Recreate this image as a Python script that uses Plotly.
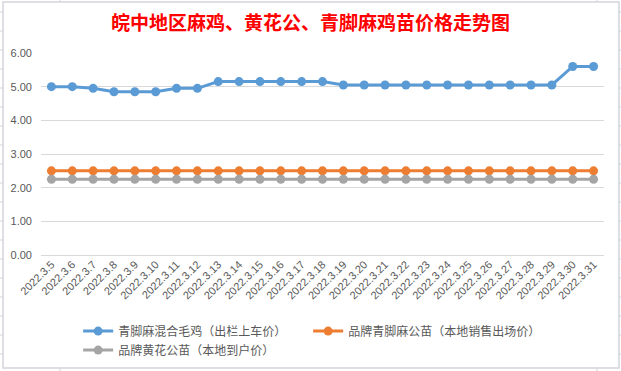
import plotly.graph_objects as go

dates = ["2022.3.%d" % d for d in range(5, 32)]
qingjiao_mixed = [5.00, 5.00, 4.95, 4.85, 4.85, 4.85, 4.95, 4.95,
                  5.15, 5.15, 5.15, 5.15, 5.15, 5.15,
                  5.05, 5.05, 5.05, 5.05, 5.05, 5.05, 5.05, 5.05, 5.05, 5.05, 5.05,
                  5.60, 5.60]
brand_qingjiao = [2.50] * 27
brand_huanghua = [2.25] * 27

names = ["青脚麻混合毛鸡（出栏上车价）", "品牌青脚麻公苗（本地销售出场价）", "品牌黄花公苗（本地到户价）"]
colors = ["#5B9BD5", "#ED7D31", "#A5A5A5"]
series = [qingjiao_mixed, brand_qingjiao, brand_huanghua]

fig = go.Figure()
for n, c, s in zip(names, colors, series):
    fig.add_trace(go.Scatter(x=dates, y=s, name=n, mode="lines+markers",
                             line=dict(color=c, width=3),
                             marker=dict(color=c, size=9)))

W, H = 621, 371
L, R, T, B = 41, 17, 53, 116
PW, PH = W - L - R, H - T - B


def px(x):
    return (x - L) / PW


def py(y):
    return (H - B - y) / PH


frame = "#D4D4DC"
shapes = [dict(type="rect", xref="paper", yref="paper",
               x0=px(3), x1=px(619), y0=py(368), y1=py(2),
               line=dict(color=frame, width=1.5), layer="below")]
# faint spreadsheet cell lines peeking around the chart frame
for yy in range(12, 368, 19):
    shapes.append(dict(type="line", xref="paper", yref="paper", x0=px(0), x1=px(3),
                       y0=py(yy), y1=py(yy), line=dict(color=frame, width=1), layer="below"))
    shapes.append(dict(type="line", xref="paper", yref="paper", x0=px(619), x1=px(621),
                       y0=py(yy), y1=py(yy), line=dict(color=frame, width=1), layer="below"))
for xx in (60, 597):
    shapes.append(dict(type="line", xref="paper", yref="paper", x0=px(xx), x1=px(xx),
                       y0=py(0), y1=py(2), line=dict(color=frame, width=1), layer="below"))
    shapes.append(dict(type="line", xref="paper", yref="paper", x0=px(xx), x1=px(xx),
                       y0=py(368), y1=py(371), line=dict(color=frame, width=1), layer="below"))

fig.update_layout(
    width=W, height=H,
    margin=dict(l=L, r=R, t=T, b=B, autoexpand=False),
    paper_bgcolor="white", plot_bgcolor="white",
    title=dict(text="皖中地区麻鸡、黄花公、青脚麻鸡苗价格走势图", x=0.5, xref="container",
               y=1 - 23 / H, yanchor="middle", automargin=False,
               font=dict(family="Noto Sans CJK SC", size=19, color="#FF0000", weight="bold")),
    xaxis=dict(type="category", range=[-0.5, len(dates) - 0.5], tickangle=-45,
               showgrid=False, showline=False, automargin=False,
               ticks="", tickfont=dict(family="Liberation Sans", size=11, color="#595959"),
               zeroline=False),
    yaxis=dict(range=[0, 6], dtick=1, tickformat=".2f", gridcolor="#D9D9D9", gridwidth=1,
               zeroline=True, zerolinecolor="#D9D9D9", zerolinewidth=1, automargin=False,
               showline=False, ticks="", ticklabelstandoff=8,
               tickfont=dict(family="Liberation Sans", size=11, color="#595959")),
    legend=dict(orientation="h", x=0.066, xanchor="left", y=-0.305, yanchor="top",
                entrywidth=185, entrywidthmode="pixels",
                font=dict(family="Noto Sans CJK SC", size=12, color="#595959"),
                bgcolor="rgba(0,0,0,0)"),
    shapes=shapes,
    showlegend=True,
)
fig.write_html("out.html", config={"displayModeBar": False},
               post_script="document.body.style.margin='0';")
